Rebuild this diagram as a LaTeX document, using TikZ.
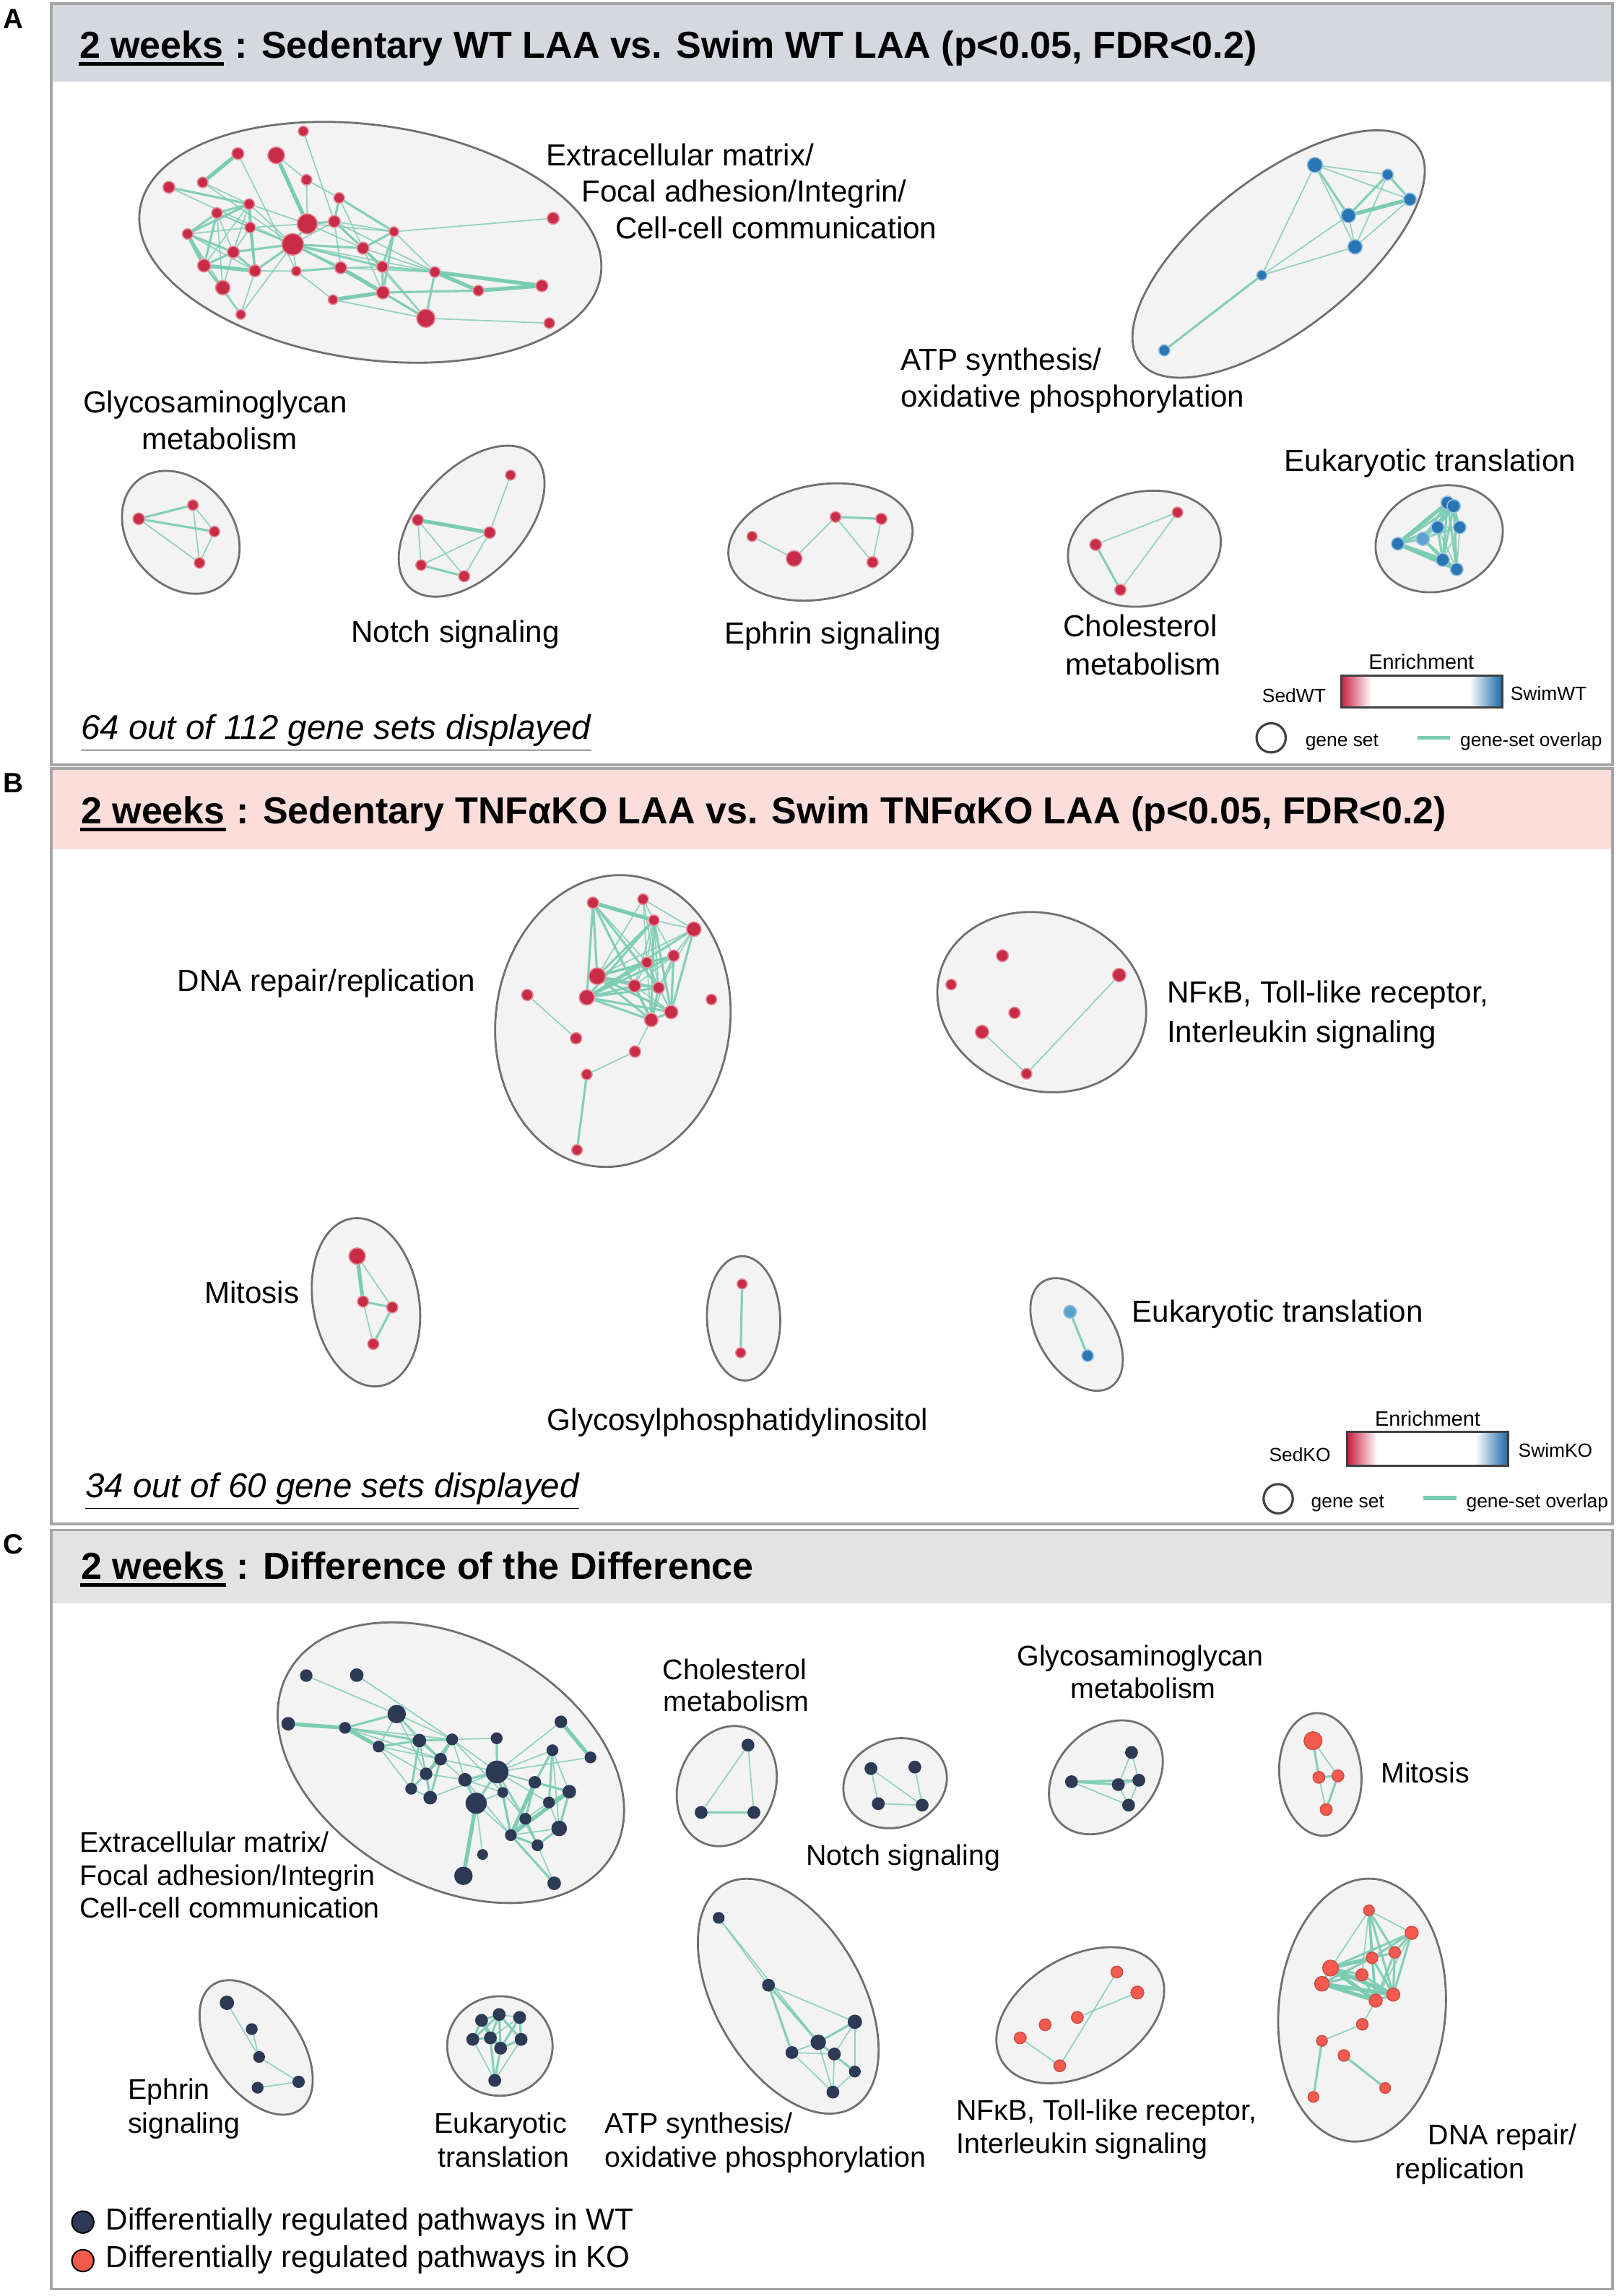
\documentclass[tikz,border=0pt]{standalone}
\usepackage{fontspec}
\setmainfont{Liberation Sans}
\definecolor{crim}{RGB}{200,44,70}
\definecolor{crimE}{RGB}{228,140,155}
\definecolor{bluD}{RGB}{40,118,180}
\definecolor{bluL}{RGB}{92,162,206}
\definecolor{bluE}{RGB}{150,190,225}
\definecolor{navD}{RGB}{44,58,86}
\definecolor{corl}{RGB}{244,90,78}
\definecolor{corE}{RGB}{205,80,70}
\definecolor{edg}{RGB}{122,204,178}
\definecolor{ellF}{RGB}{243,243,243}
\definecolor{ellD}{RGB}{112,112,112}
\definecolor{frmG}{RGB}{165,165,165}
\definecolor{hdA}{RGB}{213,216,223}
\definecolor{hdB}{RGB}{251,221,218}
\definecolor{hdC}{RGB}{227,227,227}
\definecolor{barR}{RGB}{200,30,60}
\definecolor{barB}{RGB}{25,105,170}
\pgfdeclarelayer{ellayer}
\pgfdeclarelayer{edlayer}
\pgfsetlayers{ellayer,edlayer,main}
\newcommand\fLab{\fontsize{12}{14}\selectfont}
\newcommand\fLabC{\fontsize{11.2}{13}\selectfont}
\newcommand\fHead{\fontsize{14.8}{18}\selectfont\bfseries}
\newcommand\fLeg{\fontsize{7.5}{9}\selectfont}
\newcommand\fEnr{\fontsize{8.2}{10}\selectfont}
\newcommand\fCnt{\fontsize{13.5}{16}\selectfont\itshape}
\newcommand\fPan{\fontsize{11}{13}\selectfont\bfseries}
\tikzset{
  dot/.style={circle, inner sep=0pt, line width=0.45pt},
  rd/.style={dot, fill=crim, draw=crimE, minimum size=#1}, rd/.default=4.4pt,
  bd/.style={dot, fill=bluD, draw=bluE, minimum size=#1}, bd/.default=5pt,
  bl/.style={dot, fill=bluL, draw=bluE, minimum size=#1}, bl/.default=5pt,
  nd/.style={dot, fill=navD, draw=navD, minimum size=#1}, nd/.default=4.6pt,
  cd/.style={dot, fill=corl, draw=corE, minimum size=#1}, cd/.default=4.6pt,
  ed/.style={draw=edg, line width=0.5pt, opacity=0.8},
  em/.style={draw=edg, line width=0.9pt, opacity=0.9},
  et/.style={draw=edg, line width=1.5pt},
  ell/.style={fill=ellF, draw=ellD, line width=0.8pt},
  frm/.style={draw=frmG, line width=1pt},
  lab/.style={inner sep=0pt, font=\fLab},
  labc/.style={inner sep=0pt, font=\fLabC},
  hd/.style={inner sep=0pt, font=\fHead},
  leg/.style={inner sep=0pt, font=\fLeg},
}
\begin{document}
\begin{tikzpicture}[x=0.020271cm, y=-0.020271cm]
\useasboundingbox (0,0) rectangle (1106,1568.3);
\begin{pgfonlayer}{ellayer}
\fill[white] (0,0) rectangle (1106,1568.3);
\fill[hdA] (35,2.5) rectangle (1101.5,55.5);
\draw[frm] (35,2.5) rectangle (1101.5,522.5);
\fill[hdB] (35,525) rectangle (1101.5,580);
\draw[frm] (35,525) rectangle (1101.5,1041);
\fill[hdC] (35,1045) rectangle (1101.5,1095);
\draw[frm] (35,1045) rectangle (1101.5,1563.5);
% ellipses A
\draw[ell, rotate around={-8:(253,165.5)}] (253,165.5) ellipse [x radius=159, y radius=80];
\draw[ell, rotate around={38:(873.5,173.5)}] (873.5,173.5) ellipse [x radius=120, y radius=52];
\draw[ell, rotate around={-50:(123.5,363.6)}] (123.5,363.6) ellipse [x radius=46, y radius=35.5];
\draw[ell, rotate around={47:(322.2,356)}] (322.2,356) ellipse [x radius=62, y radius=36];
\draw[ell, rotate around={10.6:(560.5,370.2)}] (560.5,370.2) ellipse [x radius=63.6, y radius=39];
\draw[ell, rotate around={11.5:(781.8,374.8)}] (781.8,374.8) ellipse [x radius=52.7, y radius=39];
\draw[ell, rotate around={20:(983.2,368)}] (983.2,368) ellipse [x radius=44.4, y radius=35.4];
% ellipses B
\draw[ell, rotate around={82:(418.7,697.4)}] (418.7,697.4) ellipse [x radius=100, y radius=80];
\draw[ell, rotate around={-18:(711.7,684.5)}] (711.7,684.5) ellipse [x radius=72.4, y radius=60.3];
\draw[ell, rotate around={100:(250,889.5)}] (250,889.5) ellipse [x radius=58, y radius=36.2];
\draw[ell, rotate around={92:(508,900.5)}] (508,900.5) ellipse [x radius=42.5, y radius=25];
\draw[ell, rotate around={123:(735.5,911.5)}] (735.5,911.5) ellipse [x radius=42.8, y radius=25.4];
% ellipses C
\draw[ell, rotate around={-29:(308,1204)}] (308,1204) ellipse [x radius=127, y radius=84];
\draw[ell, rotate around={70:(496.5,1220)}] (496.5,1220) ellipse [x radius=42, y radius=33];
\draw[ell, rotate around={20:(611.5,1218)}] (611.5,1218) ellipse [x radius=36, y radius=30];
\draw[ell, rotate around={45:(755.5,1214)}] (755.5,1214) ellipse [x radius=44, y radius=33];
\draw[ell, rotate around={95:(902,1212)}] (902,1212) ellipse [x radius=42, y radius=28];
\draw[ell, rotate around={-55:(175,1398.5)}] (175,1398.5) ellipse [x radius=52, y radius=30];
\draw[ell] (341.5,1397.5) ellipse [x radius=36, y radius=34];
\draw[ell, rotate around={-60:(538.5,1363.5)}] (538.5,1363.5) ellipse [x radius=88, y radius=50];
\draw[ell, rotate around={30:(738,1376.5)}] (738,1376.5) ellipse [x radius=62, y radius=40];
\draw[ell, rotate around={85:(930.5,1373)}] (930.5,1373) ellipse [x radius=90, y radius=57];
\end{pgfonlayer}

% ---------- Panel A nodes
\node[rd=4.0pt] (ae1) at (207.2,89.6) {};
\node[rd=4.7pt] (ae2) at (162.5,104.9) {};
\node[rd=6.6pt] (ae3) at (188.7,106.1) {};
\node[rd=4.2pt] (ae4) at (138.5,124.6) {};
\node[rd=4.7pt] (ae5) at (115.4,127.9) {};
\node[rd=4.2pt] (ae6) at (209.4,122.8) {};
\node[rd=4.2pt] (ae7) at (231.7,135.2) {};
\node[rd=4.2pt] (ae8) at (170.2,139.4) {};
\node[rd=4.2pt] (ae9) at (148.2,145.5) {};
\node[rd=7.9pt] (ae10) at (209.9,152.9) {};
\node[rd=4.7pt] (ae11) at (228.4,151.3) {};
\node[rd=4.2pt] (ae12) at (170.9,155.4) {};
\node[rd=4.2pt] (ae13) at (128.2,159.8) {};
\node[rd=3.8pt] (ae14) at (269.1,158.2) {};
\node[rd=4.7pt] (ae15) at (377.9,149.1) {};
\node[rd=8.5pt] (ae16) at (200.0,166.9) {};
\node[rd=4.7pt] (ae17) at (159.4,172.2) {};
\node[rd=4.7pt] (ae18) at (248.0,169.5) {};
\node[rd=5.1pt] (ae19) at (139.4,181.4) {};
\node[rd=4.7pt] (ae20) at (174.2,185.0) {};
\node[rd=3.8pt] (ae21) at (202.4,185.2) {};
\node[rd=4.7pt] (ae22) at (232.8,182.9) {};
\node[rd=4.4pt] (ae23) at (261.2,182.2) {};
\node[rd=4.2pt] (ae24) at (297.1,185.8) {};
\node[rd=5.7pt] (ae25) at (152.2,196.5) {};
\node[rd=5.1pt] (ae26) at (261.6,199.8) {};
\node[rd=4.2pt] (ae27) at (326.8,198.5) {};
\node[rd=4.7pt] (ae28) at (370.2,195.2) {};
\node[rd=3.8pt] (ae29) at (227.5,204.7) {};
\node[rd=3.8pt] (ae30) at (164.5,214.8) {};
\node[rd=7.2pt] (ae31) at (290.9,217.4) {};
\node[rd=4.2pt] (ae32) at (375.3,220.7) {};

\node[bd=6.0pt] (aa1) at (898.3,112.7) {};
\node[bd=4.4pt] (aa2) at (948,119.3) {};
\node[bd=5.0pt] (aa3) at (963.2,136.2) {};
\node[bd=5.7pt] (aa4) at (921.2,147.2) {};
\node[bd=5.7pt] (aa5) at (925.7,168.6) {};
\node[bd=4.0pt] (aa6) at (862,188) {};
\node[bd=4.4pt] (aa7) at (795.4,239.3) {};

\node[rd=4.6pt] (ag1) at (94.8,354.4) {};
\node[rd=4.2pt] (ag2) at (131.8,345) {};
\node[rd=4.2pt] (ag3) at (146.5,363.1) {};
\node[rd=4.2pt] (ag4) at (136.3,384.5) {};

\node[rd=4.0pt] (an1) at (348.8,324.5) {};
\node[rd=4.4pt] (an2) at (285.4,355.2) {};
\node[rd=4.6pt] (an3) at (334.5,363.8) {};
\node[rd=4.2pt] (an4) at (287.7,386) {};
\node[rd=4.4pt] (an5) at (317.1,393.6) {};

\node[rd=4.0pt] (ap1) at (513.8,366.4) {};
\node[rd=6.2pt] (ap2) at (542.5,381.5) {};
\node[rd=4.2pt] (ap3) at (570.8,353.1) {};
\node[rd=4.4pt] (ap4) at (602.1,354.4) {};
\node[rd=4.4pt] (ap5) at (596.1,384) {};

\node[rd=4.2pt] (ac1) at (804.4,350) {};
\node[rd=4.6pt] (ac2) at (748.5,372) {};
\node[rd=4.4pt] (ac3) at (765.4,402.9) {};

\node[bd=5.2pt] (at1) at (988.9,343.4) {};
\node[bd=5.2pt] (at2) at (993.1,345.7) {};
\node[bd=5.0pt] (at3) at (982.1,360.2) {};
\node[bd=5.0pt] (at4) at (997.2,360.2) {};
\node[bd=5.0pt] (at5) at (954.9,371.4) {};
\node[bl=5.2pt] (at6) at (972,368.1) {};
\node[bd=5.2pt] (at7) at (985.6,382.4) {};
\node[bd=5.0pt] (at8) at (995.2,388.9) {};

% ---------- Panel B nodes
\node[rd=4.5pt] (bd1) at (405.1,616.6) {};
\node[rd=4.2pt] (bd2) at (439.3,614.2) {};
\node[rd=4.2pt] (bd3) at (446.7,628.6) {};
\node[rd=5.7pt] (bd4) at (474,634.7) {};
\node[rd=4.5pt] (bd5) at (460.2,652.8) {};
\node[rd=4.2pt] (bd6) at (441.9,657.4) {};
\node[rd=6.6pt] (bd7) at (408,666.8) {};
\node[rd=4.9pt] (bd8) at (433.5,673.4) {};
\node[rd=4.5pt] (bd9) at (450,674.7) {};
\node[rd=6.0pt] (bd10) at (400.9,681.3) {};
\node[rd=4.5pt] (bd11) at (360.2,679.6) {};
\node[rd=4.2pt] (bd12) at (486,682.7) {};
\node[rd=5.3pt] (bd13) at (458.5,691.3) {};
\node[rd=5.3pt] (bd14) at (444.9,696.7) {};
\node[rd=4.5pt] (bd15) at (393.5,709.2) {};
\node[rd=4.5pt] (bd16) at (433.8,718.3) {};
\node[rd=4.2pt] (bd17) at (400.9,733.9) {};
\node[rd=4.2pt] (bd18) at (394.2,785.5) {};

\node[rd=4.7pt] (bk1) at (684.8,652.8) {};
\node[rd=4.2pt] (bk2) at (649.8,672.5) {};
\node[rd=5.3pt] (bk3) at (764.6,666) {};
\node[rd=4.5pt] (bk4) at (693.1,691.8) {};
\node[rd=5.3pt] (bk5) at (670.9,704.9) {};
\node[rd=4.2pt] (bk6) at (701.3,733.4) {};

\node[rd=6.5pt] (bm1) at (244,858) {};
\node[rd=4.4pt] (bm2) at (248,889) {};
\node[rd=4.4pt] (bm3) at (268,893) {};
\node[rd=4.4pt] (bm4) at (255,918) {};

\node[rd=4.0pt] (bg1) at (507,877) {};
\node[rd=4.0pt] (bg2) at (506,924) {};

\node[bl=5.0pt] (bt1) at (731,896) {};
\node[bd=4.6pt] (bt2) at (743,926) {};

% ---------- Panel C nodes
\node[nd=4.5pt] (ce1) at (209.2,1144.5) {};
\node[nd=4.9pt] (ce2) at (243.7,1144.2) {};
\node[nd=6.8pt] (ce3) at (271,1170.8) {};
\node[nd=4.9pt] (ce4) at (196.9,1177.4) {};
\node[nd=4.2pt] (ce5) at (235.7,1180.2) {};
\node[nd=4.2pt] (ce6) at (258.7,1193) {};
\node[nd=4.9pt] (ce7) at (286.5,1188.9) {};
\node[nd=4.2pt] (ce8) at (308.9,1188.1) {};
\node[nd=4.2pt] (ce9) at (339.3,1187.3) {};
\node[nd=4.5pt] (ce10) at (383.2,1176.1) {};
\node[nd=4.2pt] (ce11) at (377.4,1195.5) {};
\node[nd=4.2pt] (ce12) at (403.4,1200.4) {};
\node[nd=4.5pt] (ce13) at (301,1201.6) {};
\node[nd=8.5pt] (ce14) at (339.6,1210.3) {};
\node[nd=4.5pt] (ce15) at (291.1,1211.6) {};
\node[nd=4.9pt] (ce16) at (317.7,1215.7) {};
\node[nd=4.2pt] (ce17) at (280.9,1221.8) {};
\node[nd=4.5pt] (ce18) at (365.4,1217.4) {};
\node[nd=3.8pt] (ce19) at (343.4,1224.3) {};
\node[nd=4.9pt] (ce20) at (388.9,1223.8) {};
\node[nd=4.9pt] (ce21) at (293.9,1227.9) {};
\node[nd=7.9pt] (ce22) at (325.3,1231.7) {};
\node[nd=4.2pt] (ce23) at (375,1231.2) {};
\node[nd=4.2pt] (ce24) at (358.9,1242.3) {};
\node[nd=5.7pt] (ce25) at (382,1248.9) {};
\node[nd=4.2pt] (ce26) at (349,1253.5) {};
\node[nd=4.2pt] (ce27) at (367.2,1260.4) {};
\node[nd=3.8pt] (ce28) at (329.7,1266.7) {};
\node[nd=6.8pt] (ce29) at (316.6,1281.3) {};
\node[nd=4.9pt] (ce30) at (378.6,1286.4) {};

\node[nd] (cc1) at (511,1192) {};
\node[nd] (cc2) at (479,1238) {};
\node[nd] (cc3) at (515,1238) {};

\node[nd] (cn1) at (595,1208) {};
\node[nd] (cn2) at (625,1207) {};
\node[nd] (cn3) at (600,1232) {};
\node[nd] (cn4) at (630,1233) {};

\node[nd] (cg1) at (773,1197) {};
\node[nd] (cg2) at (732,1217) {};
\node[nd] (cg3) at (764,1219) {};
\node[nd] (cg4) at (778,1216) {};
\node[nd] (cg5) at (771,1233) {};

\node[cd=7pt] (cm1) at (897,1189) {};
\node[cd] (cm2) at (901,1214) {};
\node[cd] (cm3) at (914,1213) {};
\node[cd] (cm4) at (906,1236) {};

\node[nd=5.2pt] (cp1) at (155,1368) {};
\node[nd=4.2pt] (cp2) at (172,1386) {};
\node[nd=4.2pt] (cp3) at (177,1405) {};
\node[nd=4.2pt] (cp4) at (176,1426) {};
\node[nd=4.4pt] (cp5) at (204,1422) {};

\node[nd] (ct1) at (329,1380) {};
\node[nd] (ct2) at (341,1376) {};
\node[nd] (ct3) at (355,1378) {};
\node[nd] (ct4) at (323,1393) {};
\node[nd] (ct5) at (335,1392) {};
\node[nd] (ct6) at (342,1399) {};
\node[nd] (ct7) at (356,1393) {};
\node[nd] (ct8) at (338,1421) {};

\node[nd=4.2pt] (ca1) at (491,1310) {};
\node[nd] (ca2) at (525,1356) {};
\node[nd=5.2pt] (ca3) at (584,1381) {};
\node[nd=5.6pt] (ca4) at (559,1395) {};
\node[nd] (ca5) at (541,1402) {};
\node[nd] (ca6) at (570,1403) {};
\node[nd=4.2pt] (ca7) at (584,1415) {};
\node[nd] (ca8) at (569,1429) {};

\node[cd] (ck1) at (763,1347) {};
\node[cd=5pt] (ck2) at (777,1361) {};
\node[cd] (ck3) at (736,1378) {};
\node[cd] (ck4) at (714,1383) {};
\node[cd] (ck5) at (697,1392) {};
\node[cd] (ck6) at (724,1411) {};

\node[cd=4.2pt] (cd1) at (935.2,1304.9) {};
\node[cd=5.1pt] (cd2) at (964.4,1320.2) {};
\node[cd=4.5pt] (cd3) at (952.8,1333.6) {};
\node[cd=4.5pt] (cd4) at (937.3,1337.3) {};
\node[cd=6.2pt] (cd5) at (909,1344.3) {};
\node[cd=4.7pt] (cd6) at (930.4,1348.9) {};
\node[cd=5.7pt] (cd7) at (903.1,1355) {};
\node[cd=5.1pt] (cd8) at (951.8,1362.4) {};
\node[cd=5.1pt] (cd9) at (939.8,1366.5) {};
\node[cd=4.5pt] (cd10) at (930.7,1382.7) {};
\node[cd=4.2pt] (cd11) at (903.1,1394) {};
\node[cd=4.5pt] (cd12) at (918.1,1404) {};
\node[cd=4.2pt] (cd13) at (946.3,1426.2) {};
\node[cd=4.2pt] (cd14) at (897.3,1432.3) {};

% ---------- edges
\begin{pgfonlayer}{edlayer}
\foreach \a/\b in {ae2/ae4, ae3/ae10, ae19/ae20, ae13/ae19, ae22/ae26, ae24/ae27, ae27/ae28, ae24/ae28, ae26/ae29,
  aa3/aa4, an2/an3, at5/at1, at5/at7, at5/at8, bd1/bd3, bm1/bm2,
  ce4/ce5, ce5/ce6, ce10/ce12, ce22/ce29, ce20/ce26, ce18/ce26,
  cd5/cd8, cd7/cd8, cd7/cd9, cd5/cd9, cd5/cd4}
  \draw[et] (\a) -- (\b);
\foreach \a/\b in {ae5/ae8, ae8/ae9, ae8/ae13, ae9/ae13, ae13/ae17, ae17/ae19, ae17/ae20, ae9/ae19, ae8/ae12, ae12/ae20,
  ae16/ae20, ae16/ae17, ae10/ae16, ae16/ae18, ae16/ae22, ae16/ae23, ae10/ae11, ae11/ae18, ae14/ae18, ae7/ae14, ae7/ae11,
  ae26/ae31, ae23/ae24, ae23/ae26, ae18/ae23, ae14/ae23, ae14/ae26, ae26/ae27, ae24/ae31, ae19/ae25, ae8/ae20, ae21/ae22,
  aa2/aa3, aa1/aa4, aa2/aa4, aa6/aa7,
  ag1/ag2, ag1/ag3, an4/an5, ap3/ap4, ac2/ac3,
  at5/at2, at5/at3, at5/at6, at6/at1, at6/at2, at6/at7, at6/at8, at1/at3, at1/at4, at1/at7, at1/at8, at2/at3, at2/at4,
  at2/at7, at2/at8, at3/at7, at7/at8, at1/at2,
  bd1/bd7, bd1/bd10, bd1/bd14, bd1/bd9, bd3/bd7, bd3/bd10, bd3/bd14, bd5/bd7, bd5/bd10, bd7/bd8, bd7/bd9, bd7/bd13,
  bd7/bd14, bd10/bd8, bd10/bd9, bd10/bd13, bd10/bd14, bd8/bd14, bd9/bd14, bd13/bd14, bd4/bd13, bd5/bd13, bd6/bd7,
  bd6/bd10, bd3/bd13, bd4/bd10, bd17/bd18,
  bm2/bm3, bm3/bm4, bg1/bg2, bt1/bt2,
  ce3/ce5, ce6/ce7, ce7/ce8, ce5/ce7, ce7/ce13, ce13/ce15, ce15/ce17, ce7/ce17, ce8/ce13, ce8/ce15, ce13/ce21, ce15/ce21,
  ce14/ce16, ce14/ce19, ce14/ce22, ce11/ce18, ce11/ce23, ce18/ce20, ce20/ce23, ce20/ce25, ce18/ce24, ce19/ce26, ce26/ce27,
  ce25/ce27, ce24/ce27, ce26/ce30, ce9/ce14, ce16/ce22,
  cd1/cd4, cd1/cd3, cd2/cd3, cd2/cd5, cd2/cd4, cd3/cd4, cd3/cd8, cd3/cd9, cd4/cd8, cd4/cd9, cd5/cd6, cd5/cd7, cd6/cd7,
  cd6/cd8, cd6/cd9, cd8/cd9, cd1/cd8, cd1/cd9, cd2/cd8, cd7/cd4, cd12/cd13, cd11/cd14,
  cc2/cc3, cg2/cg3, cg2/cg4, cm1/cm2, cm2/cm3, cm3/cm4,
  ct1/ct4, ct1/ct5, ct1/ct6, ct2/ct5, ct2/ct6, ct2/ct4, ct3/ct6, ct3/ct7, ct4/ct5, ct5/ct6, ct6/ct7, ct6/ct8, ct5/ct8,
  ct2/ct7, ct1/ct2,
  ca2/ca5, ca2/ca4, ca4/ca7, ca3/ca4}
  \draw[em] (\a) -- (\b);
\foreach \a/\b in {ae1/ae11, ae3/ae6, ae6/ae10, ae6/ae7, ae2/ae21, ae4/ae16, ae5/ae16, ae4/ae8, ae8/ae16, ae8/ae10,
  ae8/ae17, ae8/ae19, ae9/ae12, ae9/ae17, ae9/ae16, ae9/ae25, ae12/ae17, ae12/ae16, ae12/ae13, ae13/ae20, ae13/ae25,
  ae17/ae25, ae25/ae30, ae19/ae30, ae20/ae30, ae16/ae30, ae16/ae21, ae20/ae21, ae16/ae24, ae16/ae26, ae10/ae12,
  ae10/ae14, ae11/ae14, ae11/ae22, ae11/ae23, ae11/ae24, ae18/ae24, ae18/ae26, ae22/ae23, ae29/ae31, ae31/ae32,
  ae14/ae15, ae14/ae24, ae23/ae31, ae18/ae31, ae22/ae24, ae10/ae18, ae11/ae16, ae7/ae18, ae22/ae31, ae21/ae29,
  aa1/aa2, aa1/aa3, aa1/aa5, aa1/aa6, aa2/aa5, aa3/aa5, aa4/aa5, aa4/aa6, aa5/aa6,
  ag2/ag3, ag2/ag4, ag1/ag4, ag3/ag4,
  an1/an3, an2/an4, an2/an5, an3/an4, an3/an5,
  ap1/ap2, ap2/ap3, ap3/ap5, ap4/ap5, ac1/ac2, ac1/ac3,
  at5/at4, at6/at3, at6/at4, at3/at4, at3/at8, at4/at7, at4/at8,
  bd1/bd6, bd2/bd3, bd2/bd4, bd2/bd6, bd2/bd9, bd2/bd7, bd3/bd4, bd3/bd6, bd3/bd5, bd3/bd8, bd3/bd9, bd4/bd5, bd4/bd9,
  bd5/bd14, bd5/bd8, bd5/bd9, bd5/bd6, bd6/bd8, bd6/bd9, bd6/bd13, bd6/bd14, bd8/bd9, bd8/bd13, bd9/bd13, bd14/bd16,
  bd16/bd17, bd11/bd15, bd4/bd7,
  bk5/bk6, bk6/bk3, bm1/bm3, bm2/bm4,
  ce1/ce3, ce2/ce8, ce3/ce6, ce3/ce7, ce3/ce8, ce3/ce13, ce3/ce15, ce5/ce8, ce5/ce13, ce6/ce13, ce6/ce15, ce6/ce17,
  ce7/ce15, ce7/ce21, ce8/ce16, ce8/ce14, ce8/ce19, ce8/ce9, ce10/ce14, ce11/ce14, ce12/ce14, ce11/ce20, ce14/ce18,
  ce14/ce20, ce14/ce24, ce14/ce26, ce14/ce23, ce15/ce16, ce16/ce19, ce13/ce16, ce17/ce21, ce19/ce22, ce19/ce24,
  ce22/ce28, ce22/ce26, ce23/ce24, ce23/ce25, ce24/ce26, ce25/ce26, ce27/ce30, ce11/ce25, ce14/ce27, ce14/ce21,
  ce13/ce14, ce16/ce26,
  cd1/cd5, cd1/cd2, cd9/cd10, cd10/cd11, cd1/cd6, cd2/cd9,
  cc1/cc2, cc1/cc3, cn1/cn3, cn1/cn4, cn3/cn4, cn2/cn4,
  cg1/cg3, cg2/cg5, cg3/cg4, cg3/cg5, cg4/cg5, cg1/cg4, cm1/cm3, cm2/cm4,
  cp1/cp3, cp3/cp5, cp4/cp5, cp2/cp3,
  ct3/ct5, ct4/ct8, ct7/ct8, ct2/ct3,
  ca1/ca2, ca1/ca4, ca2/ca3, ca3/ca6, ca3/ca7, ca4/ca5, ca4/ca6, ca4/ca8, ca5/ca8, ca6/ca8, ca7/ca8, ca5/ca6,
  ck1/ck6, ck2/ck3, ck5/ck6}
  \draw[ed] (\a) -- (\b);
\end{pgfonlayer}

% ---------- panel letters and headers
\node[font=\fPan, inner sep=0pt] (pA) at (9,13) {A};
\node[font=\fPan, inner sep=0pt] (pB) at (9,535) {B};
\node[font=\fPan, inner sep=0pt] (pC) at (9,1055) {C};

\node[hd, anchor=base west] (hA1) at (54,39.5) {2 weeks};
\node[hd, anchor=base west] (hA2) at (hA1.base east) {\ : Sedentary WT LAA vs. Swim WT LAA (p<0.05, FDR<0.2)};
\draw[line width=1.4pt] ([yshift=-2.4pt]hA1.base west) -- ([yshift=-2.4pt]hA1.base east);
\node[hd, anchor=base west] (hB1) at (55,562.5) {2 weeks};
\node[hd, anchor=base west] (hB2) at (hB1.base east) {\ : Sedentary TNFαKO LAA vs. Swim TNFαKO LAA (p<0.05, FDR<0.2)};
\draw[line width=1.4pt] ([yshift=-2.4pt]hB1.base west) -- ([yshift=-2.4pt]hB1.base east);
\node[hd, anchor=base west] (hC1) at (55,1078.5) {2 weeks};
\node[hd, anchor=base west] (hC2) at (hC1.base east) {\ : Difference of the Difference};
\draw[line width=1.4pt] ([yshift=-2.4pt]hC1.base west) -- ([yshift=-2.4pt]hC1.base east);

% ---------- labels A
\node[lab, anchor=base west] (lA1) at (373,113) {Extracellular matrix/};
\node[lab, anchor=base west] (lA2) at (397,138) {Focal adhesion/Integrin/};
\node[lab, anchor=base west] (lA3) at (420,163) {Cell-cell communication};
\node[lab, anchor=base west] (lA4) at (615,253) {ATP synthesis/};
\node[lab, anchor=base west] (lA5) at (615,278) {oxidative phosphorylation};
\node[lab, anchor=base] (lA6) at (147,282) {Glycosaminoglycan};
\node[lab, anchor=base] (lA7) at (150,307) {metabolism};
\node[lab, anchor=base] (lA8) at (311,439) {Notch signaling};
\node[lab, anchor=base] (lA9) at (569,440) {Ephrin signaling};
\node[lab, anchor=base] (lA10) at (779,435) {Cholesterol};
\node[lab, anchor=base] (lA11) at (781,461) {metabolism};
\node[lab, anchor=base] (lA12) at (977,322) {Eukaryotic translation};
\node[inner sep=0pt, font=\fCnt, anchor=base west] (lA13) at (55,505) {\underline{64 out of 112 gene sets displayed}};
% legend A
\node[inner sep=0pt, font=\fEnr, anchor=base] (eA) at (971,457) {Enrichment};
\node[leg, anchor=base] (sA1) at (884,480) {SedWT};
\node[leg, anchor=base] (sA2) at (1058,478.5) {SwimWT};
\shade[left color=barR, right color=white] (916.2,461.3) rectangle (937,483.1);
\fill[white] (937,461.3) rectangle (1004,483.1);
\shade[left color=white, right color=barB] (1004,461.3) rectangle (1026.2,483.1);
\draw[line width=0.9pt, draw=black!75] (916.2,461.3) rectangle (1026.2,483.1);
\node[circle, draw=black!75, line width=0.9pt, minimum size=11.5pt, inner sep=0pt] (gA) at (868.4,504) {};
\node[leg, anchor=base west] (gAt) at (891.5,510) {gene set};
\coordinate (oA1) at (968.2,504);
\coordinate (oA2) at (990.4,504);
\draw[draw=edg, line width=1.6pt] (oA1) -- (oA2);
\node[leg, anchor=base west] (oAt) at (997.2,510) {gene-set overlap};

% ---------- labels B
\node[lab, anchor=base] (lB1) at (223,677) {DNA repair/replication};
\node[lab, anchor=base west] (lB2) at (797,685) {NFκB, Toll-like receptor,};
\node[lab, anchor=base west] (lB3) at (797,712) {Interleukin signaling};
\node[lab, anchor=base] (lB4) at (172,890) {Mitosis};
\node[lab, anchor=base] (lB5) at (504,977) {Glycosylphosphatidylinositol};
\node[lab, anchor=base west] (lB6) at (773,903) {Eukaryotic translation};
\node[inner sep=0pt, font=\fCnt, anchor=base west] (lB7) at (58,1023) {\underline{34 out of 60 gene sets displayed}};
% legend B
\node[inner sep=0pt, font=\fEnr, anchor=base] (eB) at (975.3,974) {Enrichment};
\node[leg, anchor=base] (sB1) at (888,998) {SedKO};
\node[leg, anchor=base] (sB2) at (1062.6,995.5) {SwimKO};
\shade[left color=barR, right color=white] (920.5,978) rectangle (941,1001);
\fill[white] (941,978) rectangle (1008,1001);
\shade[left color=white, right color=barB] (1008,978) rectangle (1030.2,1001);
\draw[line width=0.9pt, draw=black!75] (920.5,978) rectangle (1030.2,1001);
\node[circle, draw=black!75, line width=0.9pt, minimum size=11.5pt, inner sep=0pt] (gB) at (873.2,1023.7) {};
\node[leg, anchor=base west] (gBt) at (895.4,1030) {gene set};
\coordinate (oB1) at (972.2,1023.2);
\coordinate (oB2) at (994.9,1023.2);
\draw[draw=edg, line width=1.6pt] (oB1) -- (oB2);
\node[leg, anchor=base west] (oBt) at (1001.4,1030) {gene-set overlap};

% ---------- labels C
\node[labc, anchor=base west] (lC1) at (54,1265) {Extracellular matrix/};
\node[labc, anchor=base west] (lC2) at (54,1288) {Focal adhesion/Integrin};
\node[labc, anchor=base west] (lC3) at (54,1310) {Cell-cell communication};
\node[labc, anchor=base] (lC4) at (502,1147) {Cholesterol};
\node[labc, anchor=base] (lC5) at (503,1169) {metabolism};
\node[labc, anchor=base] (lC6) at (617,1274) {Notch signaling};
\node[labc, anchor=base] (lC7) at (779,1138) {Glycosaminoglycan};
\node[labc, anchor=base] (lC8) at (781,1160) {metabolism};
\node[labc, anchor=base west] (lC9) at (943,1218) {Mitosis};
\node[labc, anchor=base west] (lC10) at (87,1434) {Ephrin};
\node[labc, anchor=base west] (lC11) at (87,1457) {signaling};
\node[labc, anchor=base] (lC12) at (342,1457) {Eukaryotic};
\node[labc, anchor=base] (lC13) at (344,1480) {translation};
\node[labc, anchor=base west] (lC14) at (413,1457) {ATP synthesis/};
\node[labc, anchor=base west] (lC15) at (413,1480) {oxidative phosphorylation};
\node[labc, anchor=base west] (lC16) at (653,1448) {NFκB, Toll-like receptor,};
\node[labc, anchor=base west] (lC17) at (653,1471) {Interleukin signaling};
\node[labc, anchor=base] (lC18) at (1026.5,1465) {DNA repair/};
\node[labc, anchor=base] (lC19) at (997.5,1488) {replication};
% legend C
\node[circle, fill=navD, draw=black, line width=0.6pt, minimum size=8.6pt, inner sep=0pt] (kW) at (56.6,1517.8) {};
\node[lab, anchor=base west] (kWt) at (72,1523) {Differentially regulated pathways in WT};
\node[circle, fill=corl, draw=black, line width=0.6pt, minimum size=8.6pt, inner sep=0pt] (kK) at (56.6,1544.1) {};
\node[lab, anchor=base west] (kKt) at (72,1549) {Differentially regulated pathways in KO};
\end{tikzpicture}
\end{document}
